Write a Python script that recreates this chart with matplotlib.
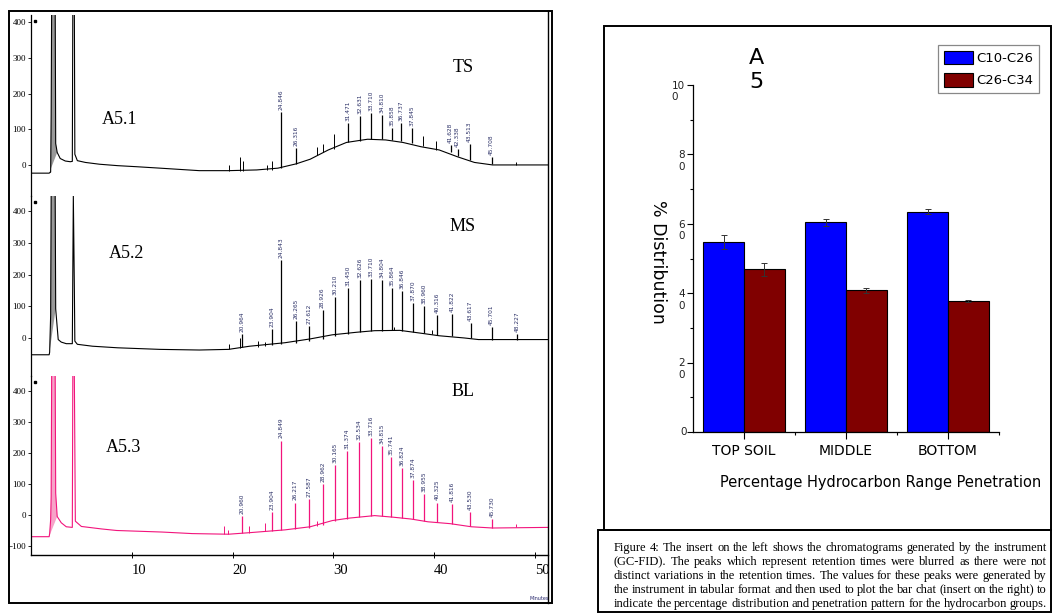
import numpy as np
import matplotlib
matplotlib.use('Agg')
import matplotlib.pyplot as plt
from matplotlib.patches import Rectangle
from matplotlib.lines import Line2D

W, H = 1053, 614

# ---------------- chromatogram data (minutes, uVolts) ----------------
# TS = top soil (A5.1)
ts_t = [0, 1.8, 1.95, 2.0, 2.05, 2.4, 2.45, 2.6, 2.9, 3.4, 3.9, 4.1, 4.15, 4.3, 4.35, 4.6,
        5.4, 6.8, 8.6, 10.5, 12.8, 16.7, 19.6, 22.4, 24.5, 26.3, 27.7, 29.5, 31.3, 33.4,
        35.2, 36.9, 38.7, 40.5, 42.3, 44.0, 45.8, 48.0, 51.3]
ts_v = [-23, -23, -20, 140, 450, 450, 60, 35, 18, 11, 9, 10, 450, 450, 30, 12,
        7, 2, -2, -5, -9, -16, -16, -14, -9, 3, 16, 42, 63, 72,
        70, 63, 51, 42, 23, 7, 0, 0, 0]
ts_pk_t = [24.846, 26.316, 31.471, 32.631, 33.710, 34.810, 35.858, 36.737, 37.845,
           41.628, 42.338, 43.513, 45.708]
ts_pk_base = [-9, 3, 63, 68, 72, 72, 70, 66, 62, 35, 25, 15, 2]
ts_pk_top = [147, 47, 117, 136, 145, 140, 103, 117, 103, 56, 44, 59, 23]
ts_sm_t = [19.6, 20.7, 21.0, 23.4, 23.9, 28.4, 29.0, 30.07, 38.9, 40.2, 48.1]
ts_sm_base = [-16, -16, -16, -14, -13, 28, 35, 45, 52, 42, 0]
ts_sm_top = [0, 22, 10, 0, 12, 50, 60, 88, 80, 68, 8]

# MS = middle (A5.2)
ms_t = [0, 1.8, 1.85, 1.95, 2.0, 2.4, 2.45, 2.7, 3.0, 3.5, 4.1, 4.2, 4.3, 4.35, 4.6,
        6.1, 8.6, 12.8, 16.7, 19.6, 21.7, 25.2, 27.7, 29.9, 32.3, 34.1, 36.6, 38.7,
        40.5, 43.0, 44.4, 48.0, 51.3]
ms_v = [-53, -53, -45, 72, 450, 450, 92, -5, -13, -18, -18, 450, 164, -10, -20,
        -26, -31, -36, -38, -36, -26, -15, -3, 10, 18, 23, 24, 15,
        7, 0, -5, -5, -5]
ms_pk_t = [20.964, 23.904, 24.843, 26.265, 27.612, 28.926, 30.210, 31.450, 32.626,
           33.710, 34.804, 35.864, 36.846, 37.870, 38.960, 40.316, 41.822, 43.617,
           45.701, 48.227]
ms_pk_base = [-30, -22, -20, -15, -10, -3, 5, 12, 18, 22, 23, 24, 22, 18, 15, 10, 5, 0, -5, -5]
ms_pk_top = [13, 29, 247, 53, 39, 89, 130, 159, 182, 185, 182, 159, 149, 110, 100, 72, 75,
             48, 34, 13]
ms_sm_t = [19.6, 20.7, 22.5, 23.2, 36.0, 39.8]
ms_sm_base = [-36, -32, -28, -24, 24, 12]
ms_sm_top = [-20, 0, -10, -12, 35, 25]

# BL = bottom layer (A5.3)
bl_t = [0, 1.8, 1.85, 1.95, 2.0, 2.05, 2.4, 2.45, 2.6, 3.0, 3.5, 4.1, 4.15, 4.3, 4.4,
        5.0, 7.0, 8.5, 13.0, 16.0, 19.6, 21.7, 25.2, 27.7, 29.9, 31.6, 34.1, 35.9,
        37.7, 39.4, 41.6, 43.7, 45.8, 51.3]
bl_v = [-70, -70, -60, -15, 60, 450, 450, 70, -5, -25, -38, -40, 450, 450, -20,
        -37, -45, -50, -55, -60, -62, -57, -48, -38, -18, -10, -2, -7,
        -13, -22, -28, -38, -42, -40]
bl_pk_t = [20.960, 23.904, 24.849, 26.217, 27.587, 28.962, 30.165, 31.374, 32.534,
           33.716, 34.815, 35.741, 36.824, 37.874, 38.955, 40.325, 41.816, 43.530, 45.730]
bl_pk_base = [-57, -52, -50, -46, -42, -33, -20, -13, -8, -4, -3, -6, -9, -13, -18, -23,
              -28, -36, -42]
bl_pk_top = [-2, 8, 240, 40, 51, 100, 160, 207, 234, 249, 223, 186, 152, 113, 67, 40,
             35, 8, -13]
bl_sm_t = [19.2, 19.5, 21.6, 23.2, 28.4, 48.1]
bl_sm_base = [-62, -62, -57, -53, -37, -40]
bl_sm_top = [-37, -48, -35, -25, -20, -30]

# ---------------- bar chart data ----------------
cats = ['TOP SOIL', 'MIDDLE', 'BOTTOM']
c10_c26 = [54.7, 60.5, 63.5]
c10_c26_err = [2.0, 1.0, 0.8]
c26_c34 = [46.9, 40.8, 37.8]
c26_c34_err = [1.8, 0.6, 0.3]

caption = [
    "Figure 4: The insert on the left shows the chromatograms generated by the instrument",
    "(GC-FID). The peaks which represent retention times were blurred as there were not",
    "distinct variations in the retention times. The values for these peaks were generated by",
    "the instrument in tabular format and then used to plot the bar chat (insert on the right) to",
    "indicate the percentage distribution and penetration pattern for the hydrocarbon groups.",
]

plt.rcParams['font.family'] = 'DejaVu Sans'
SERIF = 'Liberation Serif'


def box(x0, y0, x1, y1):
    # pixel box (from top-left) -> figure fraction rect
    return [x0 / W, 1 - y1 / H, (x1 - x0) / W, (y1 - y0) / H]


def frame(x0, y0, x1, y1, lw=1.4):
    fig.add_artist(Rectangle((x0 / W, 1 - y1 / H), (x1 - x0) / W, (y1 - y0) / H,
                             transform=fig.transFigure, fill=False, lw=lw, ec='black'))


fig = plt.figure(figsize=(W / 100, H / 100), dpi=100)

panels = [
    (box(31, 15, 548, 196), (-87, 420), [0, 100, 200, 300, 400], 'black', '0.6',
     ts_t, ts_v, ts_pk_t, ts_pk_base, ts_pk_top, ts_sm_t, ts_sm_base, ts_sm_top,
     'TS', (463, 68), 'A5.1', (120, 119)),
    (box(31, 196, 548, 376), (-120, 448), [0, 100, 200, 300, 400], 'black', '0.6',
     ms_t, ms_v, ms_pk_t, ms_pk_base, ms_pk_top, ms_sm_t, ms_sm_base, ms_sm_top,
     'MS', (463, 227), 'A5.2', (127, 254)),
    (box(31, 376, 548, 555), (-129, 448), [-100, 0, 100, 200, 300, 400], '#f2147c', '#f7a3c8',
     bl_t, bl_v, bl_pk_t, bl_pk_base, bl_pk_top, bl_sm_t, bl_sm_base, bl_sm_top,
     'BL', (463, 391), 'A5.3', (124, 447)),
]

axes = []
for (rect, ylim, yt, col, fillcol, tt, vv, pt, pb, ptop, st, sb, stop,
     name, npos, sample, spos) in panels:
    ax = fig.add_axes(rect)
    axes.append(ax)
    tt = np.array(tt)
    vv = np.array(vv)
    m = (tt >= 1.8) & (tt <= 2.6)
    ax.fill(tt[m], vv[m], color=fillcol, lw=0)
    ax.plot(tt, vv, color=col, lw=0.8)
    ax.vlines(pt, pb, ptop, color=col, lw=0.9)
    ax.vlines(st, sb, stop, color=col, lw=0.7)
    for t, top in zip(pt, ptop):
        ax.annotate(f'{t:.3f}', (t, top), xytext=(0, 1.5), textcoords='offset points',
                    rotation=90, ha='center', va='bottom', fontsize=4.2, color='#2a2f66')
    ax.set_xlim(0, 51.3)
    ax.set_ylim(*ylim)
    ax.set_yticks(yt)
    ax.tick_params(axis='y', direction='out', length=2.5, width=0.6, pad=1,
                   labelsize=6.5, labelfontfamily=SERIF)
    for s in ['top', 'bottom', 'right']:
        ax.spines[s].set_visible(False)
    ax.spines['left'].set_linewidth(0.9)
    ax.patch.set_alpha(0)
    ax.plot([0.007], [0.965], 's', ms=1.8, color='black', transform=ax.transAxes)
    fig.text(npos[0] / W, 1 - npos[1] / H, name, family=SERIF, fontsize=13,
             ha='center', va='center')
    fig.text(spos[0] / W, 1 - spos[1] / H, sample, family=SERIF, fontsize=13,
             ha='center', va='center')

ax1, ax2, ax3 = axes
for ax in (ax1, ax2):
    ax.tick_params(axis='x', bottom=False, labelbottom=False)
ax3.spines['bottom'].set_visible(True)
ax3.spines['bottom'].set_linewidth(1.0)
ax3.set_xticks([10, 20, 30, 40, 50])
ax3.tick_params(axis='x', direction='inout', length=5, width=0.7, pad=4,
                labelsize=10.5, labelfontfamily=SERIF)
for lab in ax3.get_xticklabels():
    lab.set_ha('left')
fig.text(549 / W, 1 - 599 / H, 'Minutes', fontsize=3.5, color='#24246b', ha='right',
         va='center')

# right border of the chromatogram block and outer frame
fig.add_artist(Line2D([548 / W, 548 / W], [1 - 11 / H, 1 - 603 / H],
                      transform=fig.transFigure, color='black', lw=1.0))
frame(9, 11, 552, 603)

# ---------------- bar chart ----------------
bx = fig.add_axes(box(693, 85, 999, 432))
x = np.arange(len(cats))
ekw = dict(ecolor='#333333', elinewidth=0.7, capsize=2.5, capthick=0.7)
bx.bar(x - 0.2, c10_c26, 0.4, yerr=c10_c26_err, color='#0000ff', edgecolor='black',
       lw=0.8, error_kw=ekw, label='C10-C26')
bx.bar(x + 0.2, c26_c34, 0.4, yerr=c26_c34_err, color='#800000', edgecolor='black',
       lw=0.8, error_kw=ekw, label='C26-C34')
bx.set_xlim(-0.5, 2.5)
bx.set_ylim(0, 100)
bx.set_xticks(x)
bx.set_xticklabels(cats, fontsize=10)
bx.set_xticks([0.5, 1.5, 2.5], minor=True)
bx.set_yticks(range(0, 101, 20))
bx.set_yticks(range(10, 100, 20), minor=True)
bx.tick_params(axis='x', which='major', length=5, width=0.8, pad=3.5)
bx.tick_params(axis='x', which='minor', length=2.5, width=0.8)
bx.tick_params(axis='y', which='major', length=4, width=0.8, labelleft=False)
bx.tick_params(axis='y', which='minor', length=2.5, width=0.8)
for s in ['top', 'right']:
    bx.spines[s].set_visible(False)
for s in ['left', 'bottom']:
    bx.spines[s].set_linewidth(0.9)

for v in range(0, 101, 20):
    s = str(v)
    if len(s) == 1:
        bx.annotate(s, (0, v), xycoords=('axes fraction', 'data'), xytext=(-4.3, 0),
                    textcoords='offset points', ha='right', va='center', fontsize=7.5,
                    color='#222222')
    else:
        bx.annotate(s[:-1] + '\n' + s[-1], (0, v), xycoords=('axes fraction', 'data'),
                    xytext=(-5.8, 3.0), textcoords='offset points', ha='right', va='top',
                    multialignment='left', fontsize=7.5, color='#222222', linespacing=1.2)

leg = bx.legend(loc='upper left', bbox_to_anchor=(938 / W, 1 - 45 / H),
                bbox_transform=fig.transFigure, fontsize=9.5, frameon=True, fancybox=False,
                edgecolor='#888888', framealpha=1, borderaxespad=0, borderpad=0.45,
                handlelength=2.2, handleheight=1.2, handletextpad=0.25, labelspacing=0.6)
leg.get_frame().set_linewidth(0.9)

fig.text(756 / W, 1 - 70 / H, 'A\n5', fontsize=16, ha='center', va='center',
         linespacing=1.25)
fig.text(658 / W, 1 - 262 / H, '% Distribution', fontsize=12.5, rotation=270,
         ha='center', va='center')
fig.text(881 / W, 1 - 483 / H, 'Percentage Hydrocarbon Range Penetration', fontsize=10.5,
         ha='center', va='center')

frame(604, 26, 1051, 530)
frame(598, 530, 1051, 612)

# justified caption
renderer = fig.canvas.get_renderer()
cx0, cx1 = 614, 1047
cap_y = [551, 565, 579, 593, 607]
for line, yb in zip(caption, cap_y):
    words = line.split()
    txts = [fig.text(0, 1 - yb / H, w, family=SERIF, fontsize=9.0, va='baseline')
            for w in words]
    widths = [t.get_window_extent(renderer).width for t in txts]
    gap = (cx1 - cx0 - sum(widths)) / (len(words) - 1)
    xx = cx0
    for t, w in zip(txts, widths):
        t.set_x(xx / W)
        xx += w + gap

fig.savefig('out.png', dpi=100)
